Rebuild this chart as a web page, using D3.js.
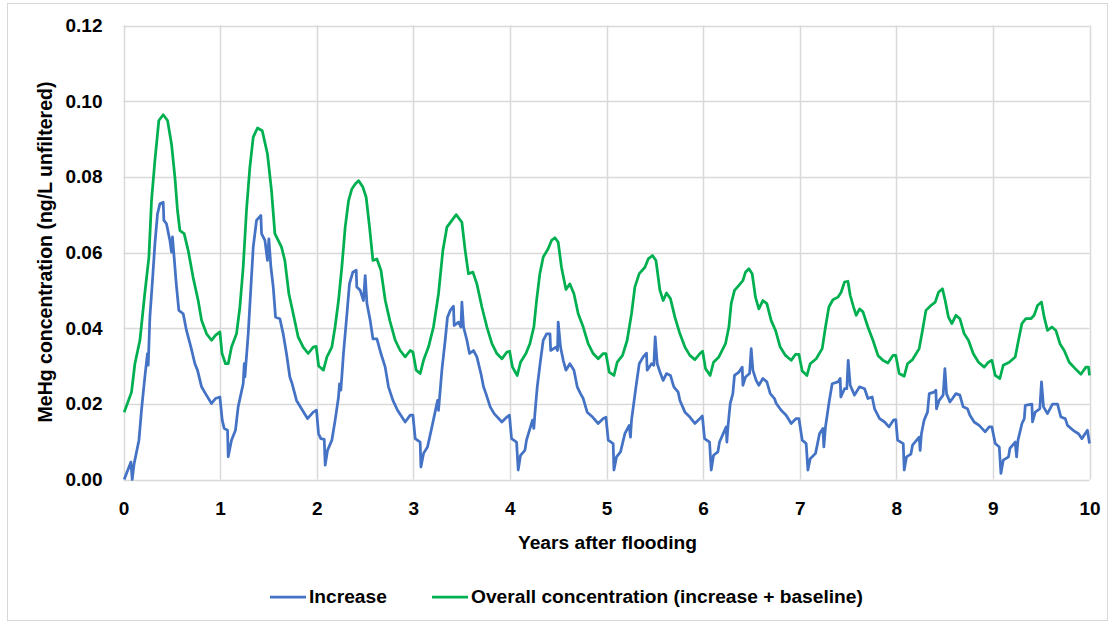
<!DOCTYPE html>
<html>
<head>
<meta charset="utf-8">
<script src="https://cdn.jsdelivr.net/npm/d3@7"></script>
<style>
  body { margin: 0; background: #fff; }
  text { font-family: "Liberation Sans", Arial, sans-serif; font-weight: bold; fill: #000; }
</style>
</head>
<body>
<div id="chart-area"></div>
<script>
// years after flooding / MeHg (ng/L unfiltered)
var increaseYears = [0.007,0.077,0.09,0.11,0.16,0.186,0.221,0.248,0.256,0.273,0.3,0.325,0.352,0.377,0.411,0.418,0.445,0.48,0.497,0.507,0.521,0.549,0.573,0.618,0.652,0.698,0.739,0.766,0.808,0.849,0.911,0.952,0.998,
  1.022,1.042,1.077,1.084,1.118,1.159,1.187,1.239,1.25,1.257,1.291,1.319,1.343,1.377,1.422,1.429,1.464,1.49,1.505,1.526,1.55,1.574,1.619,1.653,1.687,1.722,1.746,1.791,1.843,1.905,1.964,1.998,
  2.019,2.043,2.078,2.088,2.112,2.157,2.191,2.226,2.236,2.25,2.277,2.313,2.339,2.374,2.409,2.415,2.45,2.484,2.502,2.52,2.554,2.582,2.623,2.665,2.709,2.743,2.789,2.837,2.916,2.968,2.996,
  3.02,3.071,3.079,3.106,3.147,3.193,3.237,3.251,3.261,3.296,3.33,3.354,3.382,3.416,3.423,3.468,3.493,3.503,3.52,3.555,3.582,3.623,3.658,3.7,3.727,3.752,3.796,3.837,3.917,3.969,3.995,
  4.017,4.069,4.086,4.11,4.155,4.172,4.234,4.248,4.259,4.283,4.317,4.345,4.38,4.415,4.422,4.477,4.493,4.5,4.524,4.552,4.58,4.621,4.663,4.697,4.731,4.759,4.8,4.856,4.914,4.966,4.994,
  5.018,5.069,5.077,5.104,5.145,5.19,5.235,5.248,5.259,5.305,5.339,5.38,5.414,5.421,5.466,5.49,5.504,5.525,5.559,5.587,5.621,5.662,5.697,5.742,5.76,5.812,5.863,5.915,5.967,5.992,
  6.015,6.067,6.084,6.108,6.153,6.17,6.239,6.246,6.257,6.281,6.308,6.325,6.371,6.405,6.412,6.439,6.481,6.498,6.515,6.549,6.577,6.619,6.66,6.695,6.739,6.757,6.808,6.86,6.912,6.964,6.992,
  7.026,7.067,7.085,7.109,7.164,7.205,7.24,7.25,7.267,7.302,7.336,7.396,7.419,7.426,7.464,7.488,7.502,7.523,7.567,7.62,7.672,7.706,7.75,7.775,7.827,7.879,7.924,7.971,7.995,
  8.013,8.072,8.082,8.106,8.151,8.168,8.237,8.247,8.26,8.288,8.323,8.341,8.392,8.41,8.416,8.444,8.485,8.503,8.52,8.555,8.582,8.617,8.658,8.692,8.737,8.762,8.806,8.858,8.92,8.961,8.99,
  9.024,9.066,9.083,9.107,9.162,9.176,9.231,9.245,9.26,9.301,9.325,9.335,9.404,9.41,9.438,9.486,9.503,9.524,9.565,9.617,9.669,9.704,9.749,9.772,9.831,9.886,9.921,9.979,10.0];
var increaseValues = [0.0,0.0046,0.0,0.0042,0.0104,0.0183,0.0271,0.0333,0.0302,0.0429,0.0526,0.0623,0.0702,0.0729,0.0733,0.0685,0.0676,0.0632,0.0601,0.0641,0.0597,0.0509,0.0447,0.0438,0.0394,0.035,0.0306,0.0289,0.0245,0.0227,0.0201,0.0214,0.0218,
  0.0157,0.0135,0.013,0.006,0.0104,0.013,0.0192,0.0253,0.0306,0.0271,0.0385,0.0509,0.0614,0.0685,0.0698,0.065,0.0632,0.0579,0.0636,0.0561,0.0509,0.0429,0.0425,0.0385,0.0333,0.0271,0.0253,0.0209,0.0187,0.0161,0.0178,0.0183,
  0.0121,0.0108,0.0106,0.0038,0.0077,0.0104,0.0157,0.0218,0.0253,0.0236,0.0333,0.0438,0.0517,0.0548,0.0553,0.0509,0.05,0.0473,0.0539,0.0465,0.042,0.0372,0.0372,0.0333,0.0297,0.0245,0.0209,0.0183,0.0152,0.017,0.017,
  0.0108,0.0099,0.0033,0.0069,0.0086,0.0139,0.0192,0.0209,0.0183,0.0289,0.0368,0.0429,0.0447,0.0458,0.0407,0.0416,0.0403,0.0469,0.0403,0.0368,0.0333,0.0341,0.0324,0.028,0.0245,0.0227,0.0192,0.0174,0.0152,0.0165,0.017,
  0.0108,0.0099,0.0025,0.0064,0.0077,0.0104,0.0157,0.0135,0.0174,0.0245,0.0315,0.0368,0.0385,0.0385,0.0341,0.035,0.0341,0.0416,0.035,0.0315,0.0289,0.0306,0.0289,0.0245,0.0227,0.0214,0.0178,0.0165,0.0148,0.0161,0.0165,
  0.0104,0.0095,0.0025,0.006,0.0073,0.0121,0.0143,0.0112,0.0157,0.0245,0.0306,0.0324,0.0334,0.0289,0.0306,0.0302,0.0377,0.0306,0.028,0.0262,0.028,0.0275,0.0245,0.0231,0.0209,0.0178,0.0165,0.0148,0.0161,0.0168,
  0.0108,0.0099,0.0025,0.0064,0.0073,0.0099,0.0139,0.0099,0.0139,0.0201,0.0227,0.0275,0.0284,0.0297,0.0249,0.0271,0.028,0.0346,0.0289,0.0262,0.0249,0.0267,0.0258,0.0227,0.0214,0.0201,0.0183,0.017,0.0148,0.0161,0.0161,
  0.0104,0.0095,0.0025,0.0055,0.0069,0.0121,0.0135,0.0086,0.0139,0.0201,0.0253,0.0258,0.0267,0.0218,0.024,0.024,0.0315,0.0249,0.0223,0.0245,0.024,0.0214,0.0218,0.0187,0.0161,0.0152,0.0139,0.0157,0.0158,
  0.0104,0.0095,0.0025,0.006,0.0067,0.0091,0.0112,0.0077,0.0121,0.0157,0.0178,0.0227,0.0231,0.0236,0.0187,0.0209,0.0223,0.0293,0.0227,0.0205,0.0214,0.0227,0.0223,0.0192,0.0187,0.017,0.0152,0.0143,0.0126,0.0139,0.0139,
  0.0095,0.0086,0.0016,0.0051,0.006,0.0082,0.0099,0.006,0.0104,0.0148,0.0161,0.0196,0.0199,0.0152,0.0178,0.0187,0.0258,0.0192,0.0174,0.0199,0.0199,0.0165,0.0161,0.0143,0.013,0.0121,0.0108,0.013,0.0095];

var overallYears = [0.007,0.083,0.118,0.17,0.22,0.263,0.29,0.325,0.366,0.411,0.456,0.497,0.532,0.559,0.584,0.628,0.67,0.72,0.773,0.808,0.86,0.911,0.952,0.998,
  1.02,1.056,1.084,1.118,1.17,1.205,1.239,1.273,1.308,1.343,1.387,1.436,1.49,1.532,1.567,1.594,1.636,1.67,1.712,1.757,1.808,1.86,1.912,1.964,1.995,
  2.02,2.07,2.106,2.157,2.19,2.226,2.26,2.295,2.33,2.364,2.399,2.433,2.478,2.512,2.547,2.582,2.623,2.665,2.71,2.757,2.813,2.864,2.916,2.968,2.996,
  3.03,3.071,3.106,3.157,3.209,3.261,3.306,3.348,3.4,3.444,3.503,3.537,3.571,3.617,3.658,3.71,3.762,3.814,3.865,3.917,3.969,3.997,
  4.027,4.076,4.11,4.166,4.207,4.248,4.276,4.31,4.345,4.396,4.431,4.466,4.5,4.534,4.58,4.621,4.663,4.707,4.759,4.81,4.862,4.914,4.966,4.994,
  5.028,5.077,5.111,5.166,5.214,5.259,5.294,5.339,5.398,5.432,5.476,5.512,5.553,5.587,5.621,5.662,5.708,5.76,5.812,5.863,5.915,5.967,5.995,
  6.025,6.073,6.108,6.163,6.232,6.267,6.291,6.325,6.371,6.412,6.439,6.474,6.508,6.542,6.577,6.619,6.66,6.705,6.75,6.798,6.853,6.912,6.957,6.992,
  7.026,7.075,7.109,7.171,7.233,7.267,7.302,7.344,7.396,7.429,7.464,7.499,7.523,7.557,7.585,7.62,7.655,7.706,7.758,7.81,7.861,7.913,7.965,7.995,
  8.03,8.082,8.116,8.168,8.237,8.271,8.307,8.358,8.403,8.437,8.478,8.506,8.54,8.575,8.617,8.658,8.703,8.747,8.796,8.851,8.91,8.954,8.99,
  9.024,9.072,9.107,9.169,9.231,9.265,9.3,9.341,9.393,9.427,9.462,9.503,9.531,9.565,9.611,9.652,9.694,9.738,9.79,9.852,9.911,9.963,9.99,10.0];
var overallValues = [0.0178,0.0231,0.0306,0.0368,0.0491,0.0588,0.0737,0.0843,0.0949,0.0964,0.0949,0.0887,0.0799,0.0711,0.0658,0.065,0.0605,0.0535,0.0473,0.0421,0.0385,0.0368,0.0381,0.039,
  0.0333,0.0306,0.0306,0.035,0.0385,0.0456,0.0561,0.0711,0.0825,0.0905,0.0929,0.0922,0.0861,0.0764,0.065,0.0636,0.0614,0.0579,0.0491,0.0438,0.0377,0.035,0.0333,0.035,0.0352,
  0.03,0.0289,0.0324,0.035,0.0403,0.0473,0.0561,0.0667,0.0737,0.0768,0.0781,0.079,0.0773,0.0746,0.0667,0.0579,0.0583,0.0553,0.0473,0.042,0.0368,0.0341,0.0324,0.0341,0.0337,
  0.0289,0.028,0.0315,0.035,0.0403,0.0491,0.0605,0.0667,0.0685,0.07,0.068,0.0605,0.0544,0.0548,0.0517,0.0456,0.0403,0.0359,0.0333,0.0319,0.0337,0.0339,
  0.0297,0.0275,0.031,0.0333,0.0359,0.0403,0.0473,0.0544,0.0588,0.061,0.0632,0.0639,0.0627,0.0561,0.0502,0.0517,0.0491,0.0438,0.0403,0.0359,0.0333,0.0319,0.0333,0.0333,
  0.0284,0.0275,0.031,0.0328,0.0368,0.0438,0.0509,0.0544,0.0561,0.0583,0.0592,0.0579,0.05,0.0473,0.0493,0.0478,0.0429,0.0385,0.035,0.0328,0.0317,0.0333,0.0339,
  0.0293,0.0275,0.031,0.0324,0.0359,0.0403,0.0465,0.05,0.0513,0.0526,0.0548,0.0557,0.0544,0.0482,0.0451,0.0473,0.0465,0.042,0.0394,0.035,0.0328,0.0315,0.0331,0.0331,
  0.0287,0.0275,0.0306,0.0319,0.0346,0.0403,0.0456,0.0475,0.0482,0.0495,0.0522,0.0524,0.0487,0.0456,0.0434,0.0451,0.0443,0.0403,0.0368,0.0328,0.0315,0.0308,0.0328,0.0328,
  0.028,0.0273,0.0306,0.0317,0.0346,0.0394,0.0447,0.046,0.0469,0.0495,0.0504,0.0473,0.0429,0.0412,0.0434,0.0425,0.0385,0.0368,0.0333,0.031,0.0297,0.031,0.0315,
  0.0275,0.0267,0.0302,0.031,0.0324,0.0368,0.0412,0.0425,0.0425,0.0434,0.046,0.0469,0.0429,0.0394,0.0403,0.0394,0.0359,0.0341,0.031,0.0293,0.0278,0.0297,0.0297,0.0275];

var xTicks = [0,1,2,3,4,5,6,7,8,9,10];
var yTicks = [0,0.02,0.04,0.06,0.08,0.10,0.12];
var seriesNames = ["Increase", "Overall concentration (increase + baseline)"];
var seriesColors = ["#4472C4", "#00B050"];

var svg = d3.select("#chart-area").append("svg")
                .attr("width", 1112)
                .attr("height", 625);

// outer chart frame
svg.append("rect")
   .attr("x", 7.5).attr("y", 3.5)
   .attr("width", 1100).attr("height", 617)
   .attr("fill", "none").attr("stroke", "#d9d9d9");

var x = d3.scaleLinear().domain([0, 10]).range([123.5, 1089.5]);
var y = d3.scaleLinear().domain([0, 0.12]).range([479.5, 25.5]);

// gridlines
svg.append("g").selectAll("line.h").data(yTicks).enter().append("line")
   .attr("x1", x(0)).attr("x2", x(10))
   .attr("y1", d => Math.round(y(d)) + 0.5).attr("y2", d => Math.round(y(d)) + 0.5)
   .attr("stroke", "#d9d9d9").attr("stroke-width", 1.5);
svg.append("g").selectAll("line.v").data(xTicks).enter().append("line")
   .attr("y1", y(0)).attr("y2", y(0.12))
   .attr("x1", d => Math.round(x(d)) + 0.5).attr("x2", d => Math.round(x(d)) + 0.5)
   .attr("stroke", "#d9d9d9").attr("stroke-width", 1.5);

// axes (labels only)
var yAxis = svg.append("g").attr("transform", "translate(" + x(0) + ",0)")
   .call(d3.axisLeft(y).tickValues(yTicks).tickFormat(d3.format(".2f")).tickSize(0).tickPadding(21));
var xAxis = svg.append("g").attr("transform", "translate(0," + y(0) + ")")
   .call(d3.axisBottom(x).tickValues(xTicks).tickFormat(d3.format("d")).tickSize(0).tickPadding(22));
[yAxis, xAxis].forEach(g => {
  g.select(".domain").remove();
  g.selectAll("text").attr("font-family", "Liberation Sans, Arial, sans-serif")
   .attr("font-weight", "bold").attr("font-size", 19).attr("fill", "#000");
});

// series lines
var series = [
  increaseYears.map((t, i) => [t, increaseValues[i]]),
  overallYears.map((t, i) => [t, overallValues[i]])
];
var line = d3.line().x(d => x(d[0])).y(d => y(d[1]));
svg.selectAll("path.series").data(series).enter().append("path")
   .attr("class", "series")
   .attr("d", line)
   .attr("fill", "none")
   .attr("stroke", (d, i) => seriesColors[i])
   .attr("stroke-width", 2.75)
   .attr("stroke-linejoin", "round");

// axis titles
svg.append("text")
   .attr("x", (x(0) + x(10)) / 2 + 1).attr("y", 549)
   .attr("text-anchor", "middle").attr("font-size", 19.2)
   .text("Years after flooding");
svg.append("text")
   .attr("transform", "translate(52,252) rotate(-90)")
   .attr("text-anchor", "middle").attr("font-size", 19.5)
   .text("MeHg concentration (ng/L unfiltered)");

// legend
var legendX = [270, 432];
var legend = svg.selectAll("g.legend").data(seriesNames).enter().append("g")
   .attr("class", "legend")
   .attr("transform", (d, i) => "translate(" + legendX[i] + ",597)");
legend.append("line").attr("x1", 0).attr("x2", 36)
   .attr("stroke", (d, i) => seriesColors[i]).attr("stroke-width", 2.75);
legend.append("text").attr("x", 39).attr("y", 6).attr("font-size", 19.2)
   .text(d => d);
</script>
</body>
</html>
